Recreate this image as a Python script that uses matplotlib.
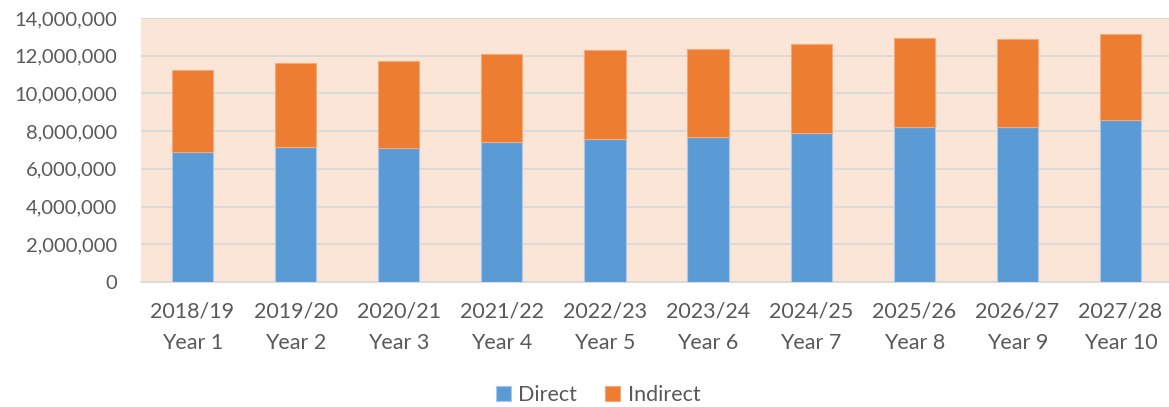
import numpy as np
import matplotlib.pyplot as plt
from matplotlib.ticker import FuncFormatter

# Values per financial year
years = ["2018/19", "2019/20", "2020/21", "2021/22", "2022/23",
         "2023/24", "2024/25", "2025/26", "2026/27", "2027/28"]
year_nums = ["Year 1", "Year 2", "Year 3", "Year 4", "Year 5",
             "Year 6", "Year 7", "Year 8", "Year 9", "Year 10"]
direct = [6870000, 7160000, 7110000, 7450000, 7590000,
          7690000, 7920000, 8220000, 8220000, 8610000]
indirect = [4350000, 4430000, 4630000, 4620000, 4730000,
            4680000, 4680000, 4700000, 4640000, 4560000]

blue = "#5B9BD5"
orange = "#ED7D31"
text_col = "#595959"
grid_col = "#D9D9D9"

plt.rcParams['font.family'] = ['Lato', 'DejaVu Sans']

fig = plt.figure(figsize=(11.69, 4.07), dpi=100)
# plot area in pixels: left 141, right ~1172, top 18, bottom 282
W, H = 1169, 407
ax = fig.add_axes([141 / W, 1 - 282 / H, (1172 - 141) / W, (282 - 18) / H])
ax.set_facecolor("#FBE5D6")

x = np.arange(len(years))
labels = ["{}\n{}".format(a, b) for a, b in zip(years, year_nums)]
ax.bar(x, direct, width=0.4, color=blue, edgecolor="#A9C8EA", linewidth=0.8,
       label="Direct", zorder=3)
ax.bar(x, indirect, width=0.4, bottom=direct, color=orange, edgecolor="#F4A97A",
       linewidth=0.8, label="Indirect", zorder=3)

ax.set_xlim(-0.5, 9.5)
ax.set_ylim(0, 14000000)
ax.set_yticks(np.arange(0, 14000001, 2000000))
ax.yaxis.set_major_formatter(FuncFormatter(lambda v, p: "{:,.0f}".format(v)))
ax.set_xticks(x)
ax.set_xticklabels(labels, linespacing=1.75)

ax.grid(axis="y", color=grid_col, linewidth=1.3, zorder=0)
ax.set_axisbelow(True)
for side in ["top", "right", "left"]:
    ax.spines[side].set_visible(False)
ax.spines["bottom"].set_color(grid_col)
ax.spines["bottom"].set_linewidth(1.3)

ax.tick_params(axis="y", length=0, labelsize=14.5, colors=text_col, pad=17)
ax.tick_params(axis="x", length=0, labelsize=15.5, colors=text_col, pad=14)

fig.legend(loc="center", bbox_to_anchor=(598 / W, 1 - 395 / H), ncol=2,
           frameon=False, fontsize=15.5, labelcolor=text_col,
           handlelength=0.7, handleheight=0.7, handletextpad=0.35,
           columnspacing=1.3)

fig.savefig("out.png", dpi=100)
